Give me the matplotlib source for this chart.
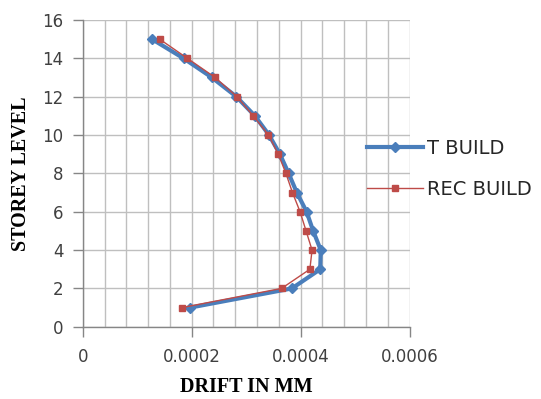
import numpy as np
import matplotlib.pyplot as plt
from matplotlib.ticker import MultipleLocator

# storey levels (1 .. 15)
storey = [1, 2, 3, 4, 5, 6, 7, 8, 9, 10, 11, 12, 13, 14, 15]

# drift values
t_build = [0.000197, 0.000384, 0.000436, 0.000437, 0.000423, 0.000411, 0.000393,
           0.000378, 0.000362, 0.000342, 0.000316, 0.000282, 0.000237, 0.000185, 0.000127]
rec_build = [0.000182, 0.000365, 0.000417, 0.000421, 0.000410, 0.000399, 0.000385,
             0.000373, 0.000359, 0.000341, 0.000313, 0.000283, 0.000243, 0.000192, 0.000141]

xticks = [0, 0.0002, 0.0004, 0.0006]
xtick_labels = ["0", "0.0002", "0.0004", "0.0006"]

fig = plt.figure(figsize=(5.41, 3.99), dpi=100)
ax = fig.add_axes([0.153, 0.181, 0.604, 0.769])

ax.plot(t_build, storey, color="#4A7EBB", linewidth=3, marker="D", markersize=5.5,
        label="T BUILD", zorder=3)
ax.plot(rec_build, storey, color="#BE4B48", linewidth=1, marker="s", markersize=4,
        label="REC BUILD", zorder=4)

ax.set_xlim(0, 0.0006)
ax.set_ylim(0, 16)
ax.set_xticks(xticks)
ax.set_xticklabels(xtick_labels)
ax.xaxis.set_minor_locator(MultipleLocator(0.00004))
ax.yaxis.set_major_locator(MultipleLocator(2))

ax.grid(True, which="major", color="#BFBFBF", linewidth=1)
ax.grid(True, which="minor", axis="x", color="#BFBFBF", linewidth=1)
ax.set_axisbelow(True)

for side in ["top", "right"]:
    ax.spines[side].set_visible(False)
for side in ["left", "bottom"]:
    ax.spines[side].set_color("#868686")
    ax.spines[side].set_linewidth(1)

ax.tick_params(axis="both", which="major", direction="out", length=7, width=1,
               color="#868686", labelsize=12, labelcolor="#404040")
ax.tick_params(axis="x", which="minor", length=0)
ax.tick_params(axis="x", which="major", pad=8)
ax.tick_params(axis="y", which="major", pad=7)
for lab in ax.get_xticklabels() + ax.get_yticklabels():
    lab.set_family("DejaVu Sans")

ax.set_xlabel("DRIFT IN MM", family="Liberation Serif", fontweight="bold",
              fontsize=14.5, labelpad=8)
ax.set_ylabel("STOREY LEVEL", family="Liberation Serif", fontweight="bold",
              fontsize=14.5, labelpad=8)

leg = ax.legend(loc="center left", bbox_to_anchor=(0.87, 0.514), frameon=False,
                borderaxespad=0, borderpad=0, handlelength=2.9, labelspacing=1.15,
                handletextpad=0.2, prop={"family": "DejaVu Sans", "size": 14})
for txt in leg.get_texts():
    txt.set_color("#262626")

fig.savefig("out.png", dpi=100)
